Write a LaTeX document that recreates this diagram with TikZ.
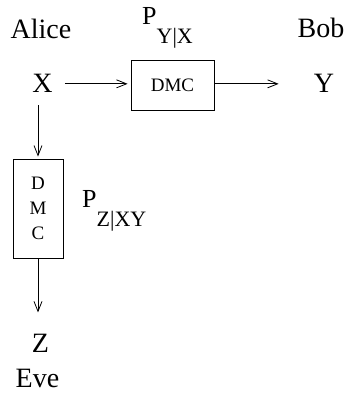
\documentclass[tikz,border=0pt]{standalone}
\usepackage{fontspec}
\setmainfont{Liberation Serif}
\usetikzlibrary{arrows.meta}
\tikzset{party/.style={font=\fontsize{28}{28}\selectfont, inner sep=0pt, anchor=base}}
\tikzset{channel/.style={draw, line width=0.8pt, inner sep=0pt, font=\fontsize{19}{25}\selectfont, align=center}}
\tikzset{link/.style={line width=0.8pt, -{Straight Barb[length=10pt,width=8pt]}}}
\tikzset{law/.style={inner sep=0pt, anchor=base west, font=\fontsize{26}{26}\selectfont}}
\newcommand{\lawsub}[1]{\raisebox{-19pt}{\fontsize{22}{22}\selectfont #1}}

\begin{document}
\begin{tikzpicture}[x=1pt,y=-1pt]
\useasboundingbox (0,0) rectangle (347,393);
% who holds what
\node[party] (alice) at (41,39) {Alice};
\node[party] (bob) at (321,38) {Bob};
\node[party] (eve) at (37.5,387.5) {Eve};
\node[party] (x) at (42.5,93) {X};
\node[party] (y) at (324,93) {Y};
\node[party] (z) at (40.5,352) {Z};
% the two channels
\node[channel, minimum width=83pt, minimum height=50pt] (main) at (172.5,85) {\raisebox{-6pt}{DMC}};
\node[channel, minimum width=50pt, minimum height=99pt] (tap) at (38,208.5) {D\\M\\C};
\node[law] (pyx) at (142,25) {P\lawsub{Y|X}};
\node[law] (pzxy) at (82,207) {P\lawsub{Z|XY}};
% links
\draw[link, shorten <=12pt, shorten >=3pt] (x.east) -- (x.east -| main.west);
\draw[link, shorten >=35pt] (main.east |- x.east) -- (y.west);
\draw[link, shorten <=12pt, shorten >=2pt] (x.south -| tap.north) -- (tap.north);
\draw[link, shorten >=21pt] (tap.south) -- (tap.south |- z.north);
\end{tikzpicture}
\end{document}
